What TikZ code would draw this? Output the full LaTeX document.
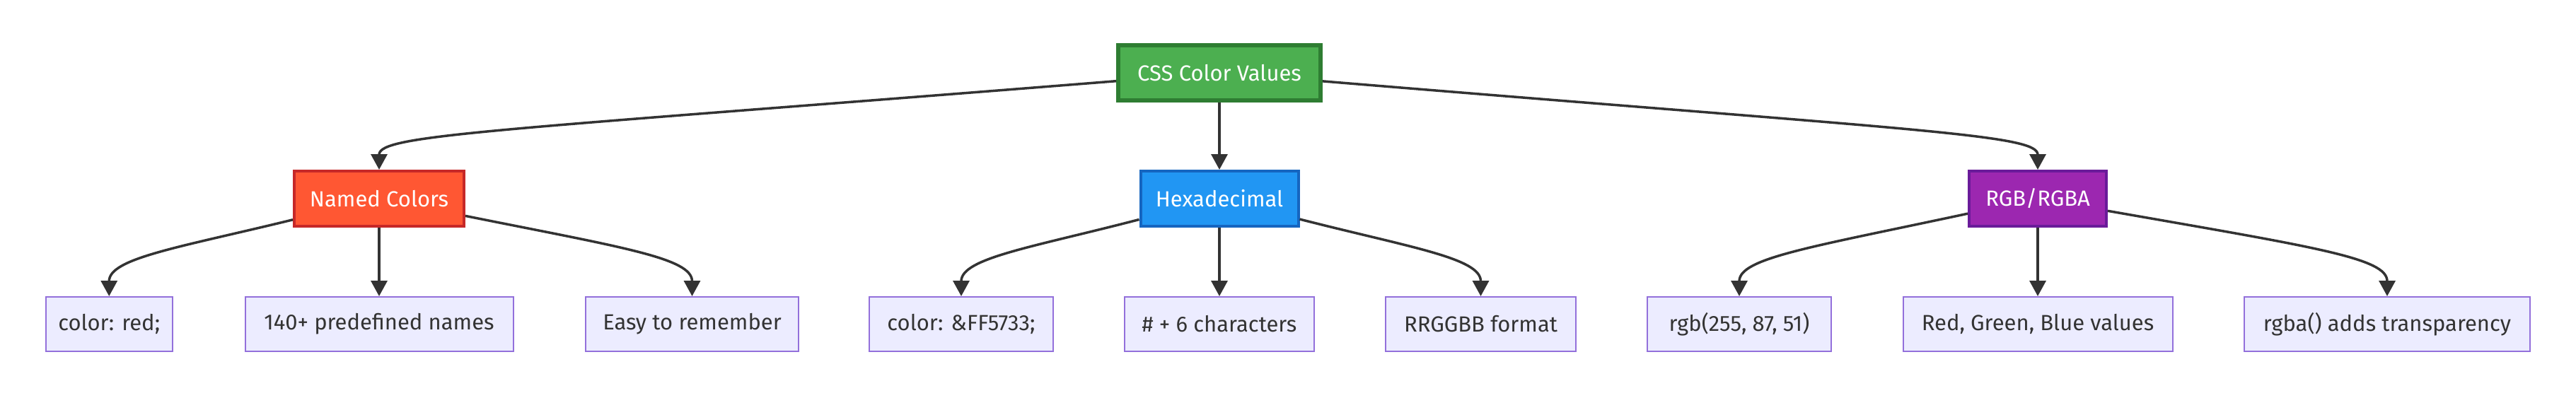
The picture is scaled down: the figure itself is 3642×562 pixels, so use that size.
\documentclass[tikz,border=0pt]{standalone}
\usepackage{fontspec}
\setmainfont{Fira Sans}
\usetikzlibrary{arrows.meta}

\definecolor{rootfill}{HTML}{4CAF50}
\definecolor{rootline}{HTML}{2E7D32}
\definecolor{namedfill}{HTML}{FF5733}
\definecolor{namedline}{HTML}{C62828}
\definecolor{hexfill}{HTML}{2196F3}
\definecolor{hexline}{HTML}{1565C0}
\definecolor{rgbfill}{HTML}{9C27B0}
\definecolor{rgbline}{HTML}{6A1B9A}
\definecolor{leaffill}{HTML}{ECECFF}
\definecolor{leafline}{HTML}{9370DB}
\definecolor{edgegray}{HTML}{333333}

\tikzset{
    box/.style={rectangle, inner sep=0pt, font=\fontsize{31}{37}\selectfont},
    topbox/.style={box, draw=rootline, fill=rootfill, text=white, line width=6pt,
        minimum width=286pt, minimum height=78pt},
    midbox/.style={box, text=white, line width=4pt, minimum height=78pt},
    leaf/.style={box, draw=leafline, fill=leaffill, text=edgegray, line width=2pt,
        minimum height=77pt},
    arr/.style={draw=edgegray, line width=3.5pt, -{Triangle[length=22pt,width=23pt]}}
}

\begin{document}
\begin{tikzpicture}[x=1pt,y=1pt]

    % --- 1. Frame ---
    \useasboundingbox (0,0) rectangle (3642,-562);

    % --- 2. Root and the three kinds ---
    \node[topbox] (css) at (1724,-103) {CSS Color Values};
    \node[midbox, draw=namedline, fill=namedfill, minimum width=240pt] (named) at (536,-281) {Named Colors};
    \node[midbox, draw=hexline, fill=hexfill, minimum width=223pt] (hex) at (1724,-281) {Hexadecimal};
    \node[midbox, draw=rgbline, fill=rgbfill, minimum width=194pt] (rgb) at (2881,-281) {RGB/RGBA};

    % --- 3. Leaves (one row) ---
    \node[leaf, minimum width=179.5pt] (redname) at (154.25,-458.5) {color: red;};
    \node[leaf, minimum width=379pt] (predef) at (536,-458.5) {140+ predefined names};
    \node[leaf, minimum width=301pt] (easy) at (978.5,-458.5) {Easy to remember};
    \node[leaf, minimum width=260pt] (hexcode) at (1359,-458.5) {color: \&FF5733;};
    \node[leaf, minimum width=268pt] (sixchar) at (1724,-458.5) {\# + 6 characters};
    \node[leaf, minimum width=269pt] (rrggbb) at (2093.5,-458.5) {RRGGBB format};
    \node[leaf, minimum width=260pt] (rgbcall) at (2459,-458.5) {rgb(255, 87, 51)};
    \node[leaf, minimum width=381pt] (channels) at (2881,-458.5) {Red, Green, Blue values};
    \node[leaf, minimum width=404pt] (alpha) at (3375,-458.5) {rgba() adds transparency};

    % --- 4. Connectors ---
    % Root to the kinds
    \draw[arr] (css) .. controls (700,-185) and (536,-190) .. (named);
    \draw[arr] (css) -- (hex);
    \draw[arr] (css) .. controls (2717,-185) and (2881,-190) .. (rgb);

    % Named colors
    \draw[arr] (named) .. controls (254,-350) and (154.25,-365) .. (redname);
    \draw[arr] (named) -- (predef);
    \draw[arr] (named) .. controls (880,-350) and (978.5,-365) .. (easy);

    % Hexadecimal
    \draw[arr] (hex) .. controls (1459,-350) and (1359,-365) .. (hexcode);
    \draw[arr] (hex) -- (sixchar);
    \draw[arr] (hex) .. controls (1993.5,-350) and (2093.5,-365) .. (rrggbb);

    % RGB/RGBA
    \draw[arr] (rgb) .. controls (2559,-350) and (2459,-365) .. (rgbcall);
    \draw[arr] (rgb) -- (channels);
    \draw[arr] (rgb) .. controls (3275,-350) and (3375,-365) .. (alpha);

\end{tikzpicture}
\end{document}
